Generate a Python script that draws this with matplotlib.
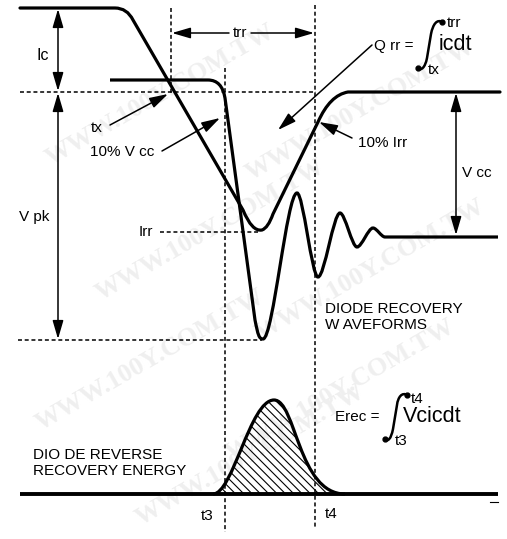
import matplotlib.pyplot as plt
from matplotlib.path import Path
from matplotlib.patches import PathPatch, FancyArrowPatch

plt.rcParams['font.family'] = ['Liberation Sans', 'DejaVu Sans']
plt.rcParams['hatch.linewidth'] = 0.8

M, L, Q, C = Path.MOVETO, Path.LINETO, Path.CURVE3, Path.CURVE4

# collector current waveform (picture pixels, y down)
ic_pts = [(20, 8), (115, 8), (127, 8), (133, 20), (243, 210), (252, 232), (262, 230),
          (268, 228), (273, 214), (318, 122), (330, 95), (348, 92), (500, 92)]
ic_codes = [M, L, Q, Q, L, Q, Q, Q, Q, L, Q, Q, L]

# collector voltage: fall, then ringing extremes
vce_head = [(110, 80), (208, 80), (222, 80), (225, 98), (255, 320)]
vce_head_codes = [M, L, Q, Q, L]
ring_x = [263, 297, 318, 340, 357, 373, 385]
ring_y = [339, 193, 277, 213, 247, 228, 237]
vce_end = (498, 237)

# recovery energy pulse
erec_pts = [(213, 494), (233, 494), (250, 400), (274, 400), (296, 400), (298, 494), (345, 494)]
erec_codes = [M, C, C, C, C, C, C]
base_line = [(20, 494), (498, 494)]

dashed = [((20, 92), (316, 92)), ((171, 8), (171, 95)), ((315, 5), (315, 528)),
          ((225, 68), (225, 532)), ((18, 340), (262, 340)), ((160, 232), (258, 232))]

double_arrows = [((58, 9), (58, 91)), ((58, 93), (58, 339)), ((456, 93), (456, 235))]
single_arrows = [((229, 33), (172, 33)), ((251, 33), (314, 33)),
                 ((110, 125), (168, 94)), ((162, 151), (220, 118)),
                 ((372, 45), (278, 130)), ((352, 138), (319, 122))]

labels = [('Ic', 43, 55, 11.5), ('trr', 240, 33, 11), ('tx', 97, 128, 11),
          ('10% V cc', 122, 152, 11), ('Q rr =', 394, 46, 11), ('trr', 454, 23, 11),
          ('icdt', 455, 45, 15.5), ('tx', 434, 70, 11), ('10% Irr', 383, 143, 11),
          ('V cc', 477, 173, 11), ('V pk', 34, 217, 11), ('Irr', 146, 232, 11),
          ('Erec =', 357, 417, 11), ('t4', 417, 399, 11), ('Vcicdt', 432, 416, 15.5),
          ('t3', 401, 441, 11), ('t3', 207, 516, 11), ('t4', 331, 514, 11)]
blocks = [('DIODE RECOVERY\nW AVEFORMS', 325, 317), ('DIO DE REVERSE\nRECOVERY ENERGY', 33, 463)]

integrals = [[(442, 22), (437, 19), (433, 24), (431, 34), (427, 58), (425, 68), (421, 71), (418, 68)],
             [(407, 395), (402, 392), (398, 397), (397, 405), (393, 429), (391, 439), (388, 442), (385, 439)]]

fig = plt.figure(figsize=(5.07, 5.39), dpi=100)
ax = fig.add_axes([0, 0, 1, 1])
ax.set_xlim(0, 507)
ax.set_ylim(539, 0)
ax.axis('off')

# faint watermark, kept inside the frame
for wx, wy in [(160, 95), (360, 110), (210, 230), (370, 270), (150, 360), (340, 390), (250, 455)]:
    ax.text(wx, wy, 'WWW.100Y.COM.TW', family='Liberation Serif', weight='bold',
            fontsize=19, color='#efefef', rotation=30, ha='center', va='center', zorder=0)

ax.add_patch(PathPatch(Path(ic_pts, ic_codes), fill=False, lw=2.3, capstyle='round'))

verts = list(vce_head)
codes = list(vce_head_codes)
verts += [(258, 335), (259, ring_y[0]), (ring_x[0], ring_y[0])]
codes += [C, C, C]
for i in range(len(ring_x) - 1):
    x0, y0, x1, y1 = ring_x[i], ring_y[i], ring_x[i + 1], ring_y[i + 1]
    k = 0.3 * (x1 - x0)
    verts += [(x0 + k, y0), (x1 - k, y1), (x1, y1)]
    codes += [C, C, C]
verts.append(vce_end)
codes.append(L)
ax.add_patch(PathPatch(Path(verts, codes), fill=False, lw=2.3))

ax.add_patch(PathPatch(Path(erec_pts + [erec_pts[0]], erec_codes + [L]),
                       facecolor='none', edgecolor='black', lw=0, hatch='\\\\\\\\'))
ax.add_patch(PathPatch(Path(erec_pts, erec_codes), fill=False, lw=2.3))
ax.plot(*zip(*base_line), color='black', lw=2.8, solid_capstyle='butt')
ax.plot([490, 498], [502, 502], color='black', lw=0.8)

for p0, p1 in dashed:
    ax.plot([p0[0], p1[0]], [p0[1], p1[1]], color='black', lw=1.1,
            linestyle=(0, (2.6, 1.8)))

for p0, p1 in double_arrows:
    ax.add_patch(FancyArrowPatch(p0, p1, arrowstyle='<|-|>,head_length=0.75,head_width=0.22',
                                 mutation_scale=15, lw=1.1, color='black', shrinkA=0, shrinkB=0))
for p0, p1 in single_arrows:
    ax.add_patch(FancyArrowPatch(p0, p1, arrowstyle='-|>,head_length=0.75,head_width=0.22',
                                 mutation_scale=15, lw=1.1, color='black', shrinkA=0, shrinkB=0))

for pts in integrals:
    ax.add_patch(PathPatch(Path(pts, [M, C, C, C, L, C, C, C]), fill=False, lw=1.8))
    ax.plot([pts[0][0], pts[-1][0]], [pts[0][1], pts[-1][1]], 'o', color='black', ms=3.5)

for s, x, y, fs in labels:
    ax.text(x, y, s, fontsize=fs, ha='center', va='center')
for s, x, y in blocks:
    ax.text(x, y, s, fontsize=11, ha='left', va='center', linespacing=1.15)

fig.savefig('out.png', dpi=100)
